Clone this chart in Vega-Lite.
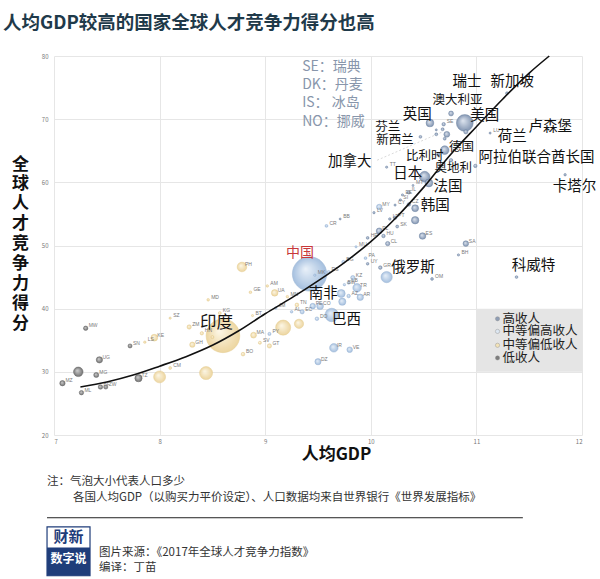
{
"$schema": "https://vega.github.io/schema/vega-lite/v6.json",
"width": 528, "height": 379,
"autosize": {"type": "none"},
"padding": {"left": 54, "top": 56, "right": 18, "bottom": 144},
"background": "white",
"config": {"view": {"stroke": null}, "font": "Noto Sans CJK SC"},
"datasets": {
"bubbles": [
{"code":"CN","x":9.42,"y":45.5,"pop":1380,"g":"UM"},
{"code":"BR","x":9.63,"y":39.0,"pop":208,"g":"UM"},
{"code":"RU","x":10.15,"y":45.0,"pop":144,"g":"UM"},
{"code":"TR","x":9.87,"y":43.3,"pop":80,"g":"UM"},
{"code":"IR","x":9.65,"y":33.8,"pop":80,"g":"UM"},
{"code":"TH","x":9.72,"y":42.4,"pop":69,"g":"UM"},
{"code":"ZA","x":9.73,"y":41.1,"pop":56,"g":"UM"},
{"code":"CO","x":9.52,"y":40.4,"pop":49,"g":"UM"},
{"code":"AR","x":9.90,"y":41.8,"pop":44,"g":"UM"},
{"code":"DZ","x":9.50,"y":31.6,"pop":41,"g":"UM"},
{"code":"PE","x":9.45,"y":40.4,"pop":32,"g":"UM"},
{"code":"VE","x":9.80,"y":33.5,"pop":32,"g":"UM"},
{"code":"MY","x":10.08,"y":56.1,"pop":31,"g":"UM"},
{"code":"KZ","x":9.83,"y":44.9,"pop":18,"g":"UM"},
{"code":"EC","x":9.35,"y":39.5,"pop":16,"g":"UM"},
{"code":"DO","x":9.49,"y":38.4,"pop":11,"g":"UM"},
{"code":"AZ","x":9.79,"y":42.0,"pop":10,"g":"UM"},
{"code":"BG","x":9.74,"y":47.4,"pop":7,"g":"UM"},
{"code":"RS","x":9.60,"y":45.8,"pop":7,"g":"UM"},
{"code":"PY","x":9.04,"y":36.0,"pop":6.8,"g":"UM"},
{"code":"LB","x":9.79,"y":44.1,"pop":6,"g":"UM"},
{"code":"CR","x":9.58,"y":53.1,"pop":4.9,"g":"UM"},
{"code":"PA","x":9.95,"y":48.0,"pop":4.1,"g":"UM"},
{"code":"AL","x":9.25,"y":39.5,"pop":2.9,"g":"UM"},
{"code":"JM","x":9.10,"y":40.1,"pop":2.9,"g":"UM"},
{"code":"BW","x":9.75,"y":43.8,"pop":2.3,"g":"UM"},
{"code":"MK","x":9.47,"y":45.3,"pop":2.1,"g":"UM"},
{"code":"MU","x":9.86,"y":49.8,"pop":1.3,"g":"UM"},
{"code":"IN","x":8.60,"y":35.7,"pop":1320,"g":"LM"},
{"code":"ID","x":9.17,"y":37.0,"pop":261,"g":"LM"},
{"code":"PK","x":8.44,"y":29.8,"pop":193,"g":"LM"},
{"code":"BD","x":8.00,"y":29.2,"pop":163,"g":"LM"},
{"code":"PH","x":8.78,"y":46.6,"pop":103,"g":"LM"},
{"code":"EG","x":9.32,"y":37.6,"pop":95,"g":"LM"},
{"code":"KE","x":7.95,"y":35.4,"pop":48,"g":"LM"},
{"code":"UA","x":9.09,"y":42.5,"pop":45,"g":"LM"},
{"code":"MA","x":8.89,"y":35.8,"pop":35,"g":"LM"},
{"code":"GH","x":8.31,"y":34.3,"pop":28,"g":"LM"},
{"code":"GT","x":9.04,"y":34.1,"pop":17,"g":"LM"},
{"code":"ZM","x":8.28,"y":37.1,"pop":17,"g":"LM"},
{"code":"TN","x":9.30,"y":40.6,"pop":11.5,"g":"LM"},
{"code":"BO","x":8.79,"y":32.8,"pop":11,"g":"LM"},
{"code":"HN","x":8.40,"y":36.1,"pop":9,"g":"LM"},
{"code":"SV","x":8.95,"y":34.6,"pop":6.4,"g":"LM"},
{"code":"NI","x":8.50,"y":35.5,"pop":6.2,"g":"LM"},
{"code":"KG","x":8.57,"y":39.3,"pop":6.1,"g":"LM"},
{"code":"CM","x":8.10,"y":30.6,"pop":5,"g":"LM"},
{"code":"GE","x":8.86,"y":42.6,"pop":3.7,"g":"LM"},
{"code":"MD","x":8.46,"y":41.4,"pop":3.5,"g":"LM"},
{"code":"AM","x":9.02,"y":43.6,"pop":3.0,"g":"LM"},
{"code":"MN","x":9.21,"y":41.9,"pop":3.0,"g":"LM"},
{"code":"LS","x":7.86,"y":34.7,"pop":2.2,"g":"LM"},
{"code":"SZ","x":8.10,"y":38.5,"pop":1.3,"g":"LM"},
{"code":"BT","x":8.88,"y":38.9,"pop":0.8,"g":"LM"},
{"code":"US","x":10.89,"y":69.4,"pop":325,"g":"H"},
{"code":"JP","x":10.51,"y":60.9,"pop":127,"g":"H"},
{"code":"DE","x":10.70,"y":65.1,"pop":82,"g":"H"},
{"code":"FR","x":10.55,"y":59.9,"pop":67,"g":"H"},
{"code":"GB","x":10.56,"y":69.4,"pop":66,"g":"H"},
{"code":"IT","x":10.42,"y":54.0,"pop":60,"g":"H"},
{"code":"KR","x":10.42,"y":55.9,"pop":51,"g":"H"},
{"code":"ES","x":10.49,"y":51.5,"pop":46,"g":"H"},
{"code":"PL","x":10.08,"y":52.3,"pop":38,"g":"H"},
{"code":"CA","x":10.72,"y":67.6,"pop":36,"g":"H"},
{"code":"SA","x":10.90,"y":50.3,"pop":32,"g":"H"},
{"code":"AU","x":10.76,"y":70.9,"pop":24,"g":"H"},
{"code":"CL","x":10.16,"y":50.3,"pop":18,"g":"H"},
{"code":"NL","x":10.90,"y":68.0,"pop":17,"g":"H"},
{"code":"BE","x":10.64,"y":64.4,"pop":11,"g":"H"},
{"code":"GR","x":10.09,"y":46.5,"pop":10.7,"g":"H"},
{"code":"CZ","x":10.36,"y":56.5,"pop":10.6,"g":"H"},
{"code":"PT","x":10.23,"y":54.4,"pop":10.3,"g":"H"},
{"code":"SE","x":10.69,"y":69.2,"pop":10,"g":"H"},
{"code":"HU","x":10.12,"y":51.5,"pop":9.8,"g":"H"},
{"code":"AE","x":10.99,"y":62.6,"pop":9.3,"g":"H"},
{"code":"AT","x":10.76,"y":63.5,"pop":8.7,"g":"H"},
{"code":"IL","x":10.36,"y":58.4,"pop":8.5,"g":"H"},
{"code":"DK","x":10.68,"y":68.4,"pop":5.7,"g":"H"},
{"code":"SG","x":11.29,"y":74.1,"pop":5.6,"g":"H"},
{"code":"FI","x":10.62,"y":67.6,"pop":5.5,"g":"H"},
{"code":"SK","x":10.25,"y":53.0,"pop":5.4,"g":"H"},
{"code":"NO","x":10.70,"y":66.9,"pop":5.3,"g":"H"},
{"code":"NZ","x":10.47,"y":67.2,"pop":4.7,"g":"H"},
{"code":"OM","x":10.58,"y":44.7,"pop":4.6,"g":"H"},
{"code":"HR","x":9.97,"y":51.2,"pop":4.2,"g":"H"},
{"code":"KW","x":11.38,"y":45.0,"pop":4.1,"g":"H"},
{"code":"UY","x":9.97,"y":47.1,"pop":3.5,"g":"H"},
{"code":"LT","x":10.18,"y":54.2,"pop":2.9,"g":"H"},
{"code":"QA","x":11.84,"y":61.2,"pop":2.6,"g":"H"},
{"code":"SI","x":10.28,"y":57.2,"pop":2.1,"g":"H"},
{"code":"LV","x":10.03,"y":55.2,"pop":2.0,"g":"H"},
{"code":"BH","x":10.83,"y":48.5,"pop":1.5,"g":"H"},
{"code":"TT","x":10.15,"y":62.4,"pop":1.4,"g":"H"},
{"code":"EE","x":10.30,"y":58.0,"pop":1.3,"g":"H"},
{"code":"CY","x":10.23,"y":56.4,"pop":1.2,"g":"H"},
{"code":"LU","x":11.13,"y":67.8,"pop":0.6,"g":"H"},
{"code":"MT","x":10.40,"y":59.5,"pop":0.4,"g":"H"},
{"code":"IS","x":10.62,"y":68.3,"pop":0.34,"g":"H"},
{"code":"BB","x":9.71,"y":54.2,"pop":0.3,"g":"H"},
{"code":"ET","x":7.23,"y":30.0,"pop":102,"g":"L"},
{"code":"TZ","x":7.80,"y":29.0,"pop":57,"g":"L"},
{"code":"UG","x":7.43,"y":31.9,"pop":42,"g":"L"},
{"code":"MZ","x":7.08,"y":28.2,"pop":29,"g":"L"},
{"code":"MG","x":7.40,"y":29.5,"pop":25,"g":"L"},
{"code":"BF","x":7.44,"y":27.6,"pop":19,"g":"L"},
{"code":"ML","x":7.26,"y":26.7,"pop":18,"g":"L"},
{"code":"MW","x":7.30,"y":36.9,"pop":18,"g":"L"},
{"code":"ZW","x":7.49,"y":27.6,"pop":16,"g":"L"},
{"code":"SN","x":7.72,"y":34.1,"pop":15,"g":"L"}
],
"trend": [
{"x":7.25,"y":27.6},{"x":7.5,"y":28.4},{"x":7.75,"y":29.5},{"x":8.0,"y":30.9},{"x":8.25,"y":32.4},
{"x":8.5,"y":34.2},{"x":8.75,"y":36.5},{"x":9.0,"y":39.2},{"x":9.25,"y":41.7},{"x":9.5,"y":44.4},
{"x":9.75,"y":47.3},{"x":10.0,"y":50.6},{"x":10.25,"y":54.6},{"x":10.5,"y":59.2},{"x":10.75,"y":64.3},
{"x":11.0,"y":68.8},{"x":11.25,"y":73.2},{"x":11.5,"y":77.3},{"x":11.69,"y":80.0}
],
"names": [
{"t":"瑞士","x":10.91,"y":75.9},{"t":"新加坡","x":11.34,"y":75.9},{"t":"英国","x":10.44,"y":70.7},
{"t":"美国","x":11.08,"y":70.5},{"t":"卢森堡","x":11.70,"y":68.8},{"t":"荷兰","x":11.34,"y":67.2},
{"t":"加拿大","x":9.80,"y":63.2},{"t":"阿拉伯联合酋长国","x":11.57,"y":63.9},{"t":"日本","x":10.35,"y":61.3},
{"t":"卡塔尔","x":11.93,"y":59.3},{"t":"法国","x":10.73,"y":59.3},{"t":"韩国","x":10.61,"y":56.3},
{"t":"俄罗斯","x":10.40,"y":46.5},{"t":"科威特","x":11.54,"y":46.8},{"t":"南非","x":9.55,"y":42.3},
{"t":"巴西","x":9.77,"y":38.2}
],
"namesSmall": [
{"t":"澳大利亚","x":10.82,"y":73.0},{"t":"芬兰","x":10.16,"y":68.8},{"t":"新西兰","x":10.23,"y":66.7},
{"t":"德国","x":10.86,"y":65.6},{"t":"比利时","x":10.51,"y":64.2},{"t":"奥地利","x":10.78,"y":62.3}
],
"abbr": [
{"t":"SE：瑞典","x":9.35,"y":78.3},{"t":"DK：丹麦","x":9.35,"y":75.4},
{"t":"IS：  冰岛","x":9.35,"y":72.6},{"t":"NO：挪威","x":9.35,"y":69.6}
],
"legend": [
{"g":"H","t":"高收人","x":11.2,"y":38.4},{"g":"UM","t":"中等偏高收人","x":11.2,"y":36.4},
{"g":"LM","t":"中等偏低收人","x":11.2,"y":34.2},{"g":"L","t":"低收人","x":11.2,"y":32.2}
],
"notes": [
{"t":"注：气泡大小代表人口多少","x":6.934,"y":12.6},
{"t":"各国人均GDP（以购买力平价设定）、人口数据均来自世界银行《世界发展指标》","x":7.18,"y":10.06},
{"t":"图片来源：《2017年全球人才竞争力指数》","x":7.426,"y":1.36},
{"t":"编译：丁苗","x":7.426,"y":-1.01}
]
},
"encoding": {
"x": {"field":"x","type":"quantitative","scale":{"domain":[7,12],"nice":false,"zero":false},
 "axis":{"values":[7,8,9,10,11,12],"title":"人均GDP","titleFontSize":17,"titleFontWeight":"bold","titleColor":"#111",
 "titleX":282,"titleY":19,"titleBaseline":"middle","titleAlign":"center",
 "labelFontSize":6,"labelColor":"#777","labelPadding":3,"domain":false,"ticks":false,"grid":true,"gridColor":"#e6e6e6"}},
"y": {"field":"y","type":"quantitative","scale":{"domain":[20,80],"nice":false,"zero":false},
 "axis":{"values":[20,30,40,50,60,70,80],"title":["全","球","人","才","竞","争","力","得","分"],"titleAngle":0,
 "titleFontSize":17,"titleFontWeight":"bold","titleColor":"#111","titleLineHeight":19.9,"titleX":-34,"titleY":100,
 "titleAlign":"center","titleBaseline":"top",
 "labelFontSize":6,"labelColor":"#777","labelPadding":6,"domain":false,"ticks":false,"grid":true,"gridColor":"#e6e6e6"}}
},
"layer": [
{"data":{"values":[{"x":11,"x2":12,"y":30,"y2":40}]},"mark":{"type":"rect","fill":"#e5e5e5"},
 "encoding":{"x2":{"field":"x2"},"y2":{"field":"y2"}}},
{"data":{"values":[{"x":10.06,"y":63.5,"x2":10.68,"y2":68.0}]},"mark":{"type":"rule","stroke":"#c8c8c8","strokeWidth":0.7,"strokeDash":[2,2]},
 "encoding":{"x2":{"field":"x2"},"y2":{"field":"y2"}}},
{"data":{"name":"bubbles"},"transform":[{"filter":"datum.g=='UM'"}],
 "mark":{"type":"point","filled":true,"opacity":0.92,"stroke":"#93afd0","strokeWidth":0.5,
  "fill":{"gradient":"radial","x1":0.38,"y1":0.35,"r1":0,"x2":0.5,"y2":0.5,"r2":0.5,"stops":[{"offset":0,"color":"#e8f0f9"},{"offset":1,"color":"#9dbadc"}]}},
 "encoding":{"size":{"field":"pop","type":"quantitative","scale":{"domain":[0,1400],"range":[4,1200]},"legend":null}}},
{"data":{"name":"bubbles"},"transform":[{"filter":"datum.g=='LM'"}],
 "mark":{"type":"point","filled":true,"opacity":0.92,"stroke":"#e3c989","strokeWidth":0.5,
  "fill":{"gradient":"radial","x1":0.38,"y1":0.35,"r1":0,"x2":0.5,"y2":0.5,"r2":0.5,"stops":[{"offset":0,"color":"#fdf7e6"},{"offset":1,"color":"#ebd298"}]}},
 "encoding":{"size":{"field":"pop","type":"quantitative","scale":{"domain":[0,1400],"range":[4,1200]},"legend":null}}},
{"data":{"name":"bubbles"},"transform":[{"filter":"datum.g=='H'"}],
 "mark":{"type":"point","filled":true,"opacity":0.95,"stroke":"#6f84a3","strokeWidth":0.5,
  "fill":{"gradient":"radial","x1":0.38,"y1":0.35,"r1":0,"x2":0.5,"y2":0.5,"r2":0.5,"stops":[{"offset":0,"color":"#dfe6f0"},{"offset":1,"color":"#7c90ae"}]}},
 "encoding":{"size":{"field":"pop","type":"quantitative","scale":{"domain":[0,1400],"range":[4,1200]},"legend":null}}},
{"data":{"name":"bubbles"},"transform":[{"filter":"datum.g=='L'"}],
 "mark":{"type":"point","filled":true,"opacity":0.95,"stroke":"#5e5e5e","strokeWidth":0.5,
  "fill":{"gradient":"radial","x1":0.38,"y1":0.35,"r1":0,"x2":0.5,"y2":0.5,"r2":0.5,"stops":[{"offset":0,"color":"#d0d0d0"},{"offset":1,"color":"#6c6c6c"}]}},
 "encoding":{"size":{"field":"pop","type":"quantitative","scale":{"domain":[0,1400],"range":[4,1200]},"legend":null}}},
{"data":{"name":"bubbles"},"transform":[{"filter":"indexof(['US','JP','DE','FR','GB','KR','CA','AU','NL','BE','AT','AE','QA','KW','SG','DK','FI','NO','NZ','IS','CN','IN','BR','RU','ZA','ID','PK','BD','ET','EG','IT','TH','NI'], datum.code) < 0"}],
 "mark":{"type":"text","font":"Liberation Sans","fontSize":5,"fill":"#7a7a7a","align":"left","dx":3,"dy":-3},
 "encoding":{"text":{"field":"code"}}},
{"data":{"name":"trend"},"mark":{"type":"line","stroke":"#111","strokeWidth":1.6,"interpolate":"monotone"},"encoding":{}},
{"data":{"name":"names"},"mark":{"type":"text","fontSize":14.5,"fill":"#111","align":"center","baseline":"middle"},
 "encoding":{"text":{"field":"t"}}},
{"data":{"name":"namesSmall"},"mark":{"type":"text","fontSize":12.5,"fill":"#111","align":"center","baseline":"middle"},
 "encoding":{"text":{"field":"t"}}},
{"data":{"values":[{"t":"中国","x":9.33,"y":48.8}]},"mark":{"type":"text","fontSize":14,"fill":"#c8383b","align":"center","baseline":"middle"},
 "encoding":{"text":{"field":"t"}}},
{"data":{"values":[{"t":"印度","x":8.54,"y":37.7}]},"mark":{"type":"text","fontSize":16.5,"fill":"#111","align":"center","baseline":"middle"},
 "encoding":{"text":{"field":"t"}}},
{"data":{"name":"abbr"},"mark":{"type":"text","fontSize":14,"fill":"#8896ab","align":"left","baseline":"middle"},
 "encoding":{"text":{"field":"t"}}},
{"data":{"name":"legend"},"mark":{"type":"point","filled":true,"size":18,"stroke":"#888","strokeWidth":0.4,"opacity":1},
 "encoding":{"color":{"field":"g","type":"nominal","scale":{"domain":["H","UM","LM","L"],"range":["#8e9db4","#dde7f2","#f3e3b8","#7d7d7d"]},"legend":null}}},
{"data":{"name":"legend"},"mark":{"type":"text","fontSize":12.5,"fill":"#222","align":"left","baseline":"middle","dx":5},
 "encoding":{"text":{"field":"t"}}},
{"data":{"values":[{"t":"人均GDP较高的国家全球人才竞争力得分也高","x":6.517,"y":85.2}]},
 "mark":{"type":"text","fontSize":18.5,"fontWeight":"bold","fill":"#1f3a4a","align":"left","baseline":"middle"},
 "encoding":{"text":{"field":"t"}}},
{"data":{"name":"notes"},"mark":{"type":"text","fontSize":11.5,"fill":"#333","align":"left","baseline":"middle"},
 "encoding":{"text":{"field":"t"}}},
{"data":{"values":[{"x":6.934,"x2":11.44,"y":6.9}]},"mark":{"type":"rule","stroke":"#222","strokeWidth":1},
 "encoding":{"x2":{"field":"x2"}}},
{"data":{"values":[{"x":6.934,"x2":7.341,"y":5.47,"y2":-2.28}]},"mark":{"type":"rect","fill":"#ffffff","stroke":"#1f3d7a","strokeWidth":1.2},
 "encoding":{"x2":{"field":"x2"},"y2":{"field":"y2"}}},
{"data":{"values":[{"x":6.934,"x2":7.341,"y":2.2,"y2":-2.28}]},"mark":{"type":"rect","fill":"#1f3d7a"},
 "encoding":{"x2":{"field":"x2"},"y2":{"field":"y2"}}},
{"data":{"values":[{"t":"财新","x":7.137,"y":3.83}]},"mark":{"type":"text","fontSize":15,"fontWeight":"bold","fill":"#1f3d7a","align":"center","baseline":"middle"},
 "encoding":{"text":{"field":"t"}}},
{"data":{"values":[{"t":"数字说","x":7.137,"y":0.4}]},"mark":{"type":"text","fontSize":12,"fontWeight":"bold","fill":"#ffffff","align":"center","baseline":"middle"},
 "encoding":{"text":{"field":"t"}}}
]
}
